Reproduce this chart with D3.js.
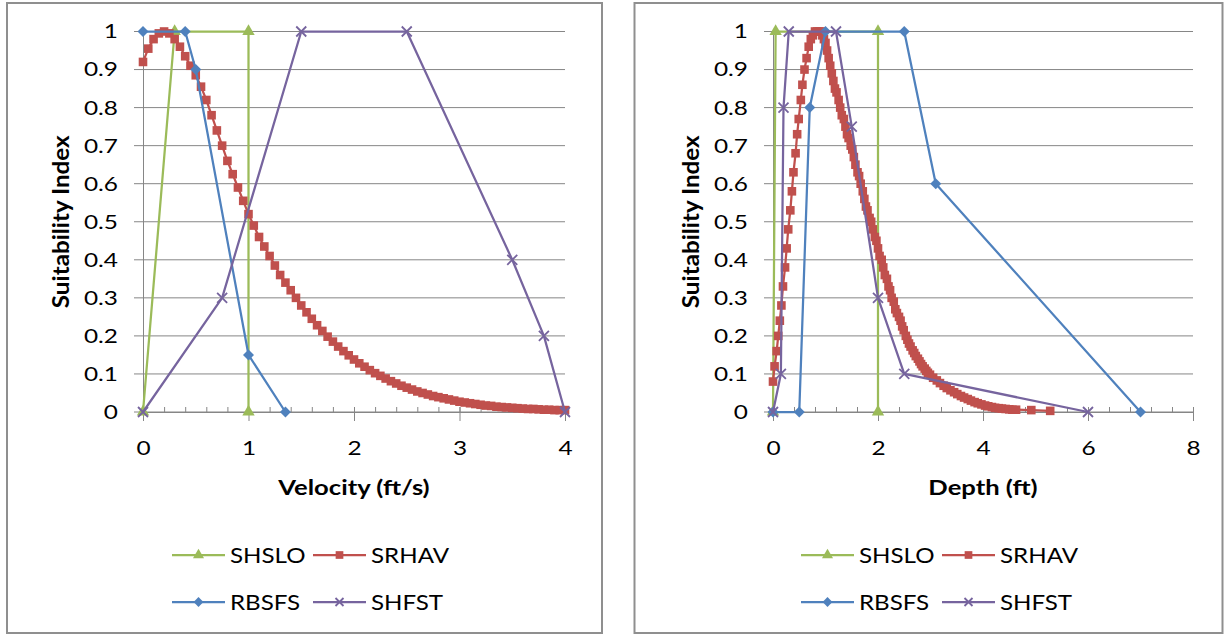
<!DOCTYPE html>
<html>
<head>
<meta charset="utf-8">
<script src="https://cdn.jsdelivr.net/npm/d3@7"></script>
<style>
  body { margin: 0; background: #fff; }
  text { font-family: Lato, "Open Sans", sans-serif; fill: #000; }
</style>
</head>
<body>
<div id="chart"></div>
<script>
// Part 1: data
var seriesNames = ["SHSLO", "SRHAV", "RBSFS", "SHFST"];
var yTicks = [0, 0.1, 0.2, 0.3, 0.4, 0.5, 0.6, 0.7, 0.8, 0.9, 1];
var velTicks = [0, 1, 2, 3, 4];
var depthTicks = [0, 2, 4, 6, 8];

// velocity panel
var velShslo = [[0, 0], [0.3, 1], [1, 1], [1, 0]];
var velRbsfs = [[0, 1], [0.4, 1], [0.5, 0.9], [1, 0.15], [1.35, 0]];
var velShfst = [[0, 0], [0.75, 0.3], [1.5, 1], [2.5, 1], [3.5, 0.4], [3.8, 0.2], [4, 0]];
var velSrhav = [[0,0.92],[0.05,0.955],[0.1,0.98],[0.15,0.995],[0.2,1],[0.25,0.995],[0.3,0.98],[0.35,0.96],
  [0.4,0.935],[0.45,0.91],[0.5,0.885],[0.55,0.855],[0.6,0.82],[0.65,0.78],[0.7,0.74],[0.75,0.7],[0.8,0.66],
  [0.85,0.625],[0.9,0.59],[0.95,0.555],[1,0.52],[1.05,0.49],[1.1,0.46],[1.15,0.435],[1.2,0.41],[1.25,0.385],
  [1.3,0.36],[1.35,0.34],[1.4,0.32],[1.45,0.3],[1.5,0.28],[1.55,0.262],[1.6,0.245],[1.65,0.228],[1.7,0.213],
  [1.75,0.198],[1.8,0.185],[1.85,0.172],[1.9,0.16],[1.95,0.149],[2,0.138],[2.05,0.128],[2.1,0.119],[2.15,0.11],
  [2.2,0.102],[2.25,0.095],[2.3,0.088],[2.35,0.081],[2.4,0.075],[2.45,0.069],[2.5,0.064],[2.55,0.059],[2.6,0.054],
  [2.65,0.05],[2.7,0.046],[2.75,0.042],[2.8,0.039],[2.85,0.036],[2.9,0.033],[2.95,0.03],[3,0.027],[3.05,0.025],
  [3.1,0.023],[3.15,0.021],[3.2,0.019],[3.25,0.017],[3.3,0.016],[3.35,0.014],[3.4,0.013],[3.45,0.012],[3.5,0.011],
  [3.55,0.01],[3.6,0.009],[3.65,0.008],[3.7,0.008],[3.75,0.007],[3.8,0.006],[3.85,0.006],[3.9,0.005],[3.95,0.005],[4,0.005]];

// depth panel
var depShslo = [[0, 0], [0.05, 1], [2, 1], [2, 0]];
var depRbsfs = [[0, 0], [0.5, 0], [0.7, 0.8], [1, 1], [2.5, 1], [3.1, 0.6], [7, 0]];
var depShfst = [[0, 0], [0.15, 0.1], [0.2, 0.8], [0.3, 1], [1.2, 1], [1.5, 0.75], [2, 0.3], [2.5, 0.1], [6, 0]];
var depSrhav = [[0,0.08],[0.03,0.12],[0.07,0.16],[0.1,0.2],[0.13,0.24],[0.16,0.28],[0.19,0.33],[0.23,0.38],
  [0.26,0.43],[0.29,0.48],[0.33,0.53],[0.36,0.58],[0.39,0.63],[0.43,0.68],[0.46,0.73],[0.49,0.77],[0.53,0.82],
  [0.56,0.86],[0.6,0.9],[0.64,0.93],[0.68,0.96],[0.72,0.98],[0.76,0.99],[0.8,1],[0.84,1],[0.88,1],[0.91,1],
  [0.94,0.99],[0.97,0.98],[1,0.97],[1.03,0.95],[1.06,0.93],[1.09,0.91],[1.12,0.89],[1.15,0.87],
  [1.18,0.85],[1.21,0.84],[1.25,0.82],[1.28,0.8],[1.31,0.78],[1.35,0.77],[1.38,0.75],[1.41,0.73],[1.44,0.72],
  [1.48,0.7],[1.51,0.69],[1.54,0.67],[1.57,0.65],[1.61,0.63],[1.64,0.62],[1.67,0.6],[1.71,0.58],[1.74,0.56],
  [1.77,0.54],[1.8,0.53],[1.84,0.51],[1.87,0.5],[1.9,0.48],[1.94,0.46],[1.97,0.45],[2,0.43],[2.03,0.41],
  [2.07,0.4],[2.1,0.38],[2.13,0.36],[2.17,0.35],[2.2,0.33],[2.23,0.32],[2.26,0.3],[2.3,0.29],[2.33,0.27],
  [2.36,0.26],[2.4,0.25],[2.43,0.24],[2.46,0.225],[2.49,0.215],[2.53,0.2],[2.56,0.19],[2.59,0.18],[2.62,0.172],
  [2.66,0.162],[2.69,0.155],[2.72,0.147],[2.76,0.14],[2.79,0.133],[2.82,0.126],[2.85,0.12],[2.89,0.114],
  [2.92,0.108],[2.95,0.103],[2.99,0.098],[3.05,0.09],[3.12,0.083],[3.18,0.076],[3.25,0.069],[3.31,0.063],
  [3.38,0.057],[3.45,0.052],[3.51,0.047],[3.58,0.042],[3.64,0.038],[3.71,0.034],[3.77,0.03],[3.84,0.026],
  [3.9,0.023],[3.97,0.02],[4.04,0.017],[4.1,0.015],[4.17,0.013],[4.23,0.011],[4.3,0.01],[4.36,0.009],
  [4.43,0.008],[4.5,0.007],[4.56,0.006],[4.63,0.006],[4.92,0.005],[5.28,0.003]];

var colors = { SHSLO: "#9BBB59", SRHAV: "#C0504D", RBSFS: "#4F81BD", SHFST: "#76649E" };

// Part 2: svg
var svgWidth = 1225;
var svgHeight = 636;

var svg = d3.select("#chart")
  .append("svg")
  .attr("width", svgWidth)
  .attr("height", svgHeight);

svg.append("rect").attr("width", svgWidth).attr("height", svgHeight).attr("fill", "#fff");

// stretch text horizontally about its own x
function stretch(sel, k) {
  sel.each(function() {
    var x = +(this.getAttribute("x") || 0);
    var y = +(this.getAttribute("y") || 0);
    d3.select(this).attr("transform", `translate(${x},${y}) scale(${k},1) translate(${-x},${-y})`);
  });
}

function marker(g, type, color, small) {
  var s = small ? 0.8 : 1;
  if (type === "SHSLO") {
    g.append("path").attr("d", d3.symbol(d3.symbolTriangle, 66 * s)()).attr("fill", color);
  } else if (type === "SRHAV") {
    g.append("path").attr("d", d3.symbol(d3.symbolSquare, 74 * s)()).attr("fill", color);
  } else if (type === "RBSFS") {
    g.append("path").attr("d", d3.symbol(d3.symbolSquare, 60 * s)()).attr("transform", "rotate(45)").attr("fill", color);
  } else {
    var r = 5 * s;
    g.append("path").attr("d", `M${-r},${-r}L${r},${r}M${-r},${r}L${r},${-r}`)
      .attr("stroke", color).attr("stroke-width", 1.8).attr("fill", "none");
  }
}

function drawPanel(p) {
  // frame
  svg.append("rect")
    .attr("x", p.frame[0]).attr("y", p.frame[1])
    .attr("width", p.frame[2]).attr("height", p.frame[3])
    .attr("fill", "none").attr("stroke", "#8f8f8f").attr("stroke-width", 2);

  var width = p.right - p.left;
  var height = 412 - 31.5;

  var chartGroup = svg.append("g")
    .attr("transform", `translate(${p.left}, 31.5)`);

  var x = d3.scaleLinear().domain(p.xDomain).range([0, width]);
  var y = d3.scaleLinear().domain([0, 1]).range([height, 0]);

  // gridlines (with outside tick)
  chartGroup.selectAll(".grid")
    .data(yTicks)
    .enter()
    .append("line")
    .attr("x1", -9).attr("x2", width)
    .attr("y1", d => y(d)).attr("y2", d => y(d))
    .attr("stroke", "#868686").attr("stroke-width", 1);

  // y axis
  var leftAxis = d3.axisLeft(y).tickValues(yTicks).tickSize(0).tickPadding(25)
    .tickFormat(d => String(d));
  var yAxis = chartGroup.append("g").call(leftAxis);
  yAxis.select(".domain").attr("stroke", "#868686");
  yAxis.selectAll("text").attr("font-size", "20px").attr("fill", "#111")
    .call(stretch, 1.22);

  // x axis minor ticks (inside)
  var minorAxis = d3.axisBottom(x).tickValues(p.minor).tickSize(-5).tickSizeOuter(0).tickFormat("");
  var mAxis = chartGroup.append("g").attr("transform", `translate(0, ${height})`).call(minorAxis);
  mAxis.selectAll("line").attr("stroke", "#868686");
  mAxis.select(".domain").attr("stroke", "#868686");

  // x axis major ticks
  var bottomAxis = d3.axisBottom(x).tickValues(p.ticks).tickSize(9).tickSizeOuter(0).tickPadding(20)
    .tickFormat(d => String(d));
  var xAxis = chartGroup.append("g").attr("transform", `translate(0, ${height})`).call(bottomAxis);
  xAxis.select(".domain").remove();
  xAxis.selectAll("line").attr("stroke", "#868686").attr("y1", -5);
  xAxis.selectAll("text").attr("font-size", "20px").attr("fill", "#111")
    .call(stretch, 1.22);

  // series
  var line = d3.line().x(d => x(d[0])).y(d => y(d[1]));
  p.series.forEach(function(s, i) {
    var name = seriesNames[i];
    chartGroup.append("path")
      .datum(s)
      .attr("d", line)
      .attr("fill", "none")
      .attr("stroke", colors[name])
      .attr("stroke-width", 2.25)
      .attr("stroke-linejoin", "round");
    chartGroup.selectAll(".m" + i)
      .data(s)
      .enter()
      .append("g")
      .attr("transform", d => `translate(${x(d[0])},${y(d[1])})`)
      .each(function() { marker(d3.select(this), name, colors[name], false); });
  });

  // axis titles
  var cx = width / 2;
  chartGroup.append("text")
    .attr("x", cx)
    .attr("y", 495 - 31.5)
    .attr("text-anchor", "middle")
    .attr("font-size", "21px")
    .attr("font-weight", "bold")
    .text(p.xTitle)
    .call(stretch, 1.22);

  chartGroup.append("text")
    .attr("transform", `translate(-82, ${height / 2}) rotate(-90) scale(1.1,1)`)
    .attr("text-anchor", "middle")
    .attr("dy", "0.35em")
    .attr("font-size", "22px")
    .attr("font-weight", "bold")
    .text("Suitability Index");

  // legend
  var legendPos = [[-182, 555], [-41, 555], [-182, 602], [-41, 602]];
  seriesNames.forEach(function(name, i) {
    var lx = cx + legendPos[i][0];
    var ly = legendPos[i][1] - 31.5;
    var lg = chartGroup.append("g").attr("transform", `translate(${lx}, ${ly})`);
    lg.append("line").attr("x1", 0).attr("x2", 53).attr("y1", 0).attr("y2", 0)
      .attr("stroke", colors[name]).attr("stroke-width", 2.25);
    marker(lg.append("g").attr("transform", "translate(26.5,0)"), name, colors[name], true);
    lg.append("text")
      .attr("x", 58)
      .attr("y", 0)
      .attr("dy", "0.36em")
      .attr("font-size", "21px")
      .attr("fill", "#111")
      .text(name)
      .call(stretch, 1.15);
  });
}

// Part 3: panels
drawPanel({
  frame: [7, 3, 595, 630],
  left: 143, right: 565,
  xDomain: [0, 4],
  ticks: velTicks,
  minor: [0, 0.2, 0.4, 0.6, 0.8, 1, 1.2, 1.4, 1.6, 1.8, 2, 2.2, 2.4, 2.6, 2.8, 3, 3.2, 3.4, 3.6, 3.8, 4],
  xTitle: "Velocity (ft/s)",
  series: [velShslo, velSrhav, velRbsfs, velShfst]
});

drawPanel({
  frame: [634.5, 3, 588, 630],
  left: 773, right: 1193,
  xDomain: [0, 8],
  ticks: depthTicks,
  minor: [0, 0.4, 0.8, 1.2, 1.6, 2, 2.4, 2.8, 3.2, 3.6, 4, 4.4, 4.8, 5.2, 5.6, 6, 6.4, 6.8, 7.2, 7.6, 8],
  xTitle: "Depth (ft)",
  series: [depShslo, depSrhav, depRbsfs, depShfst]
});
</script>
</body>
</html>
